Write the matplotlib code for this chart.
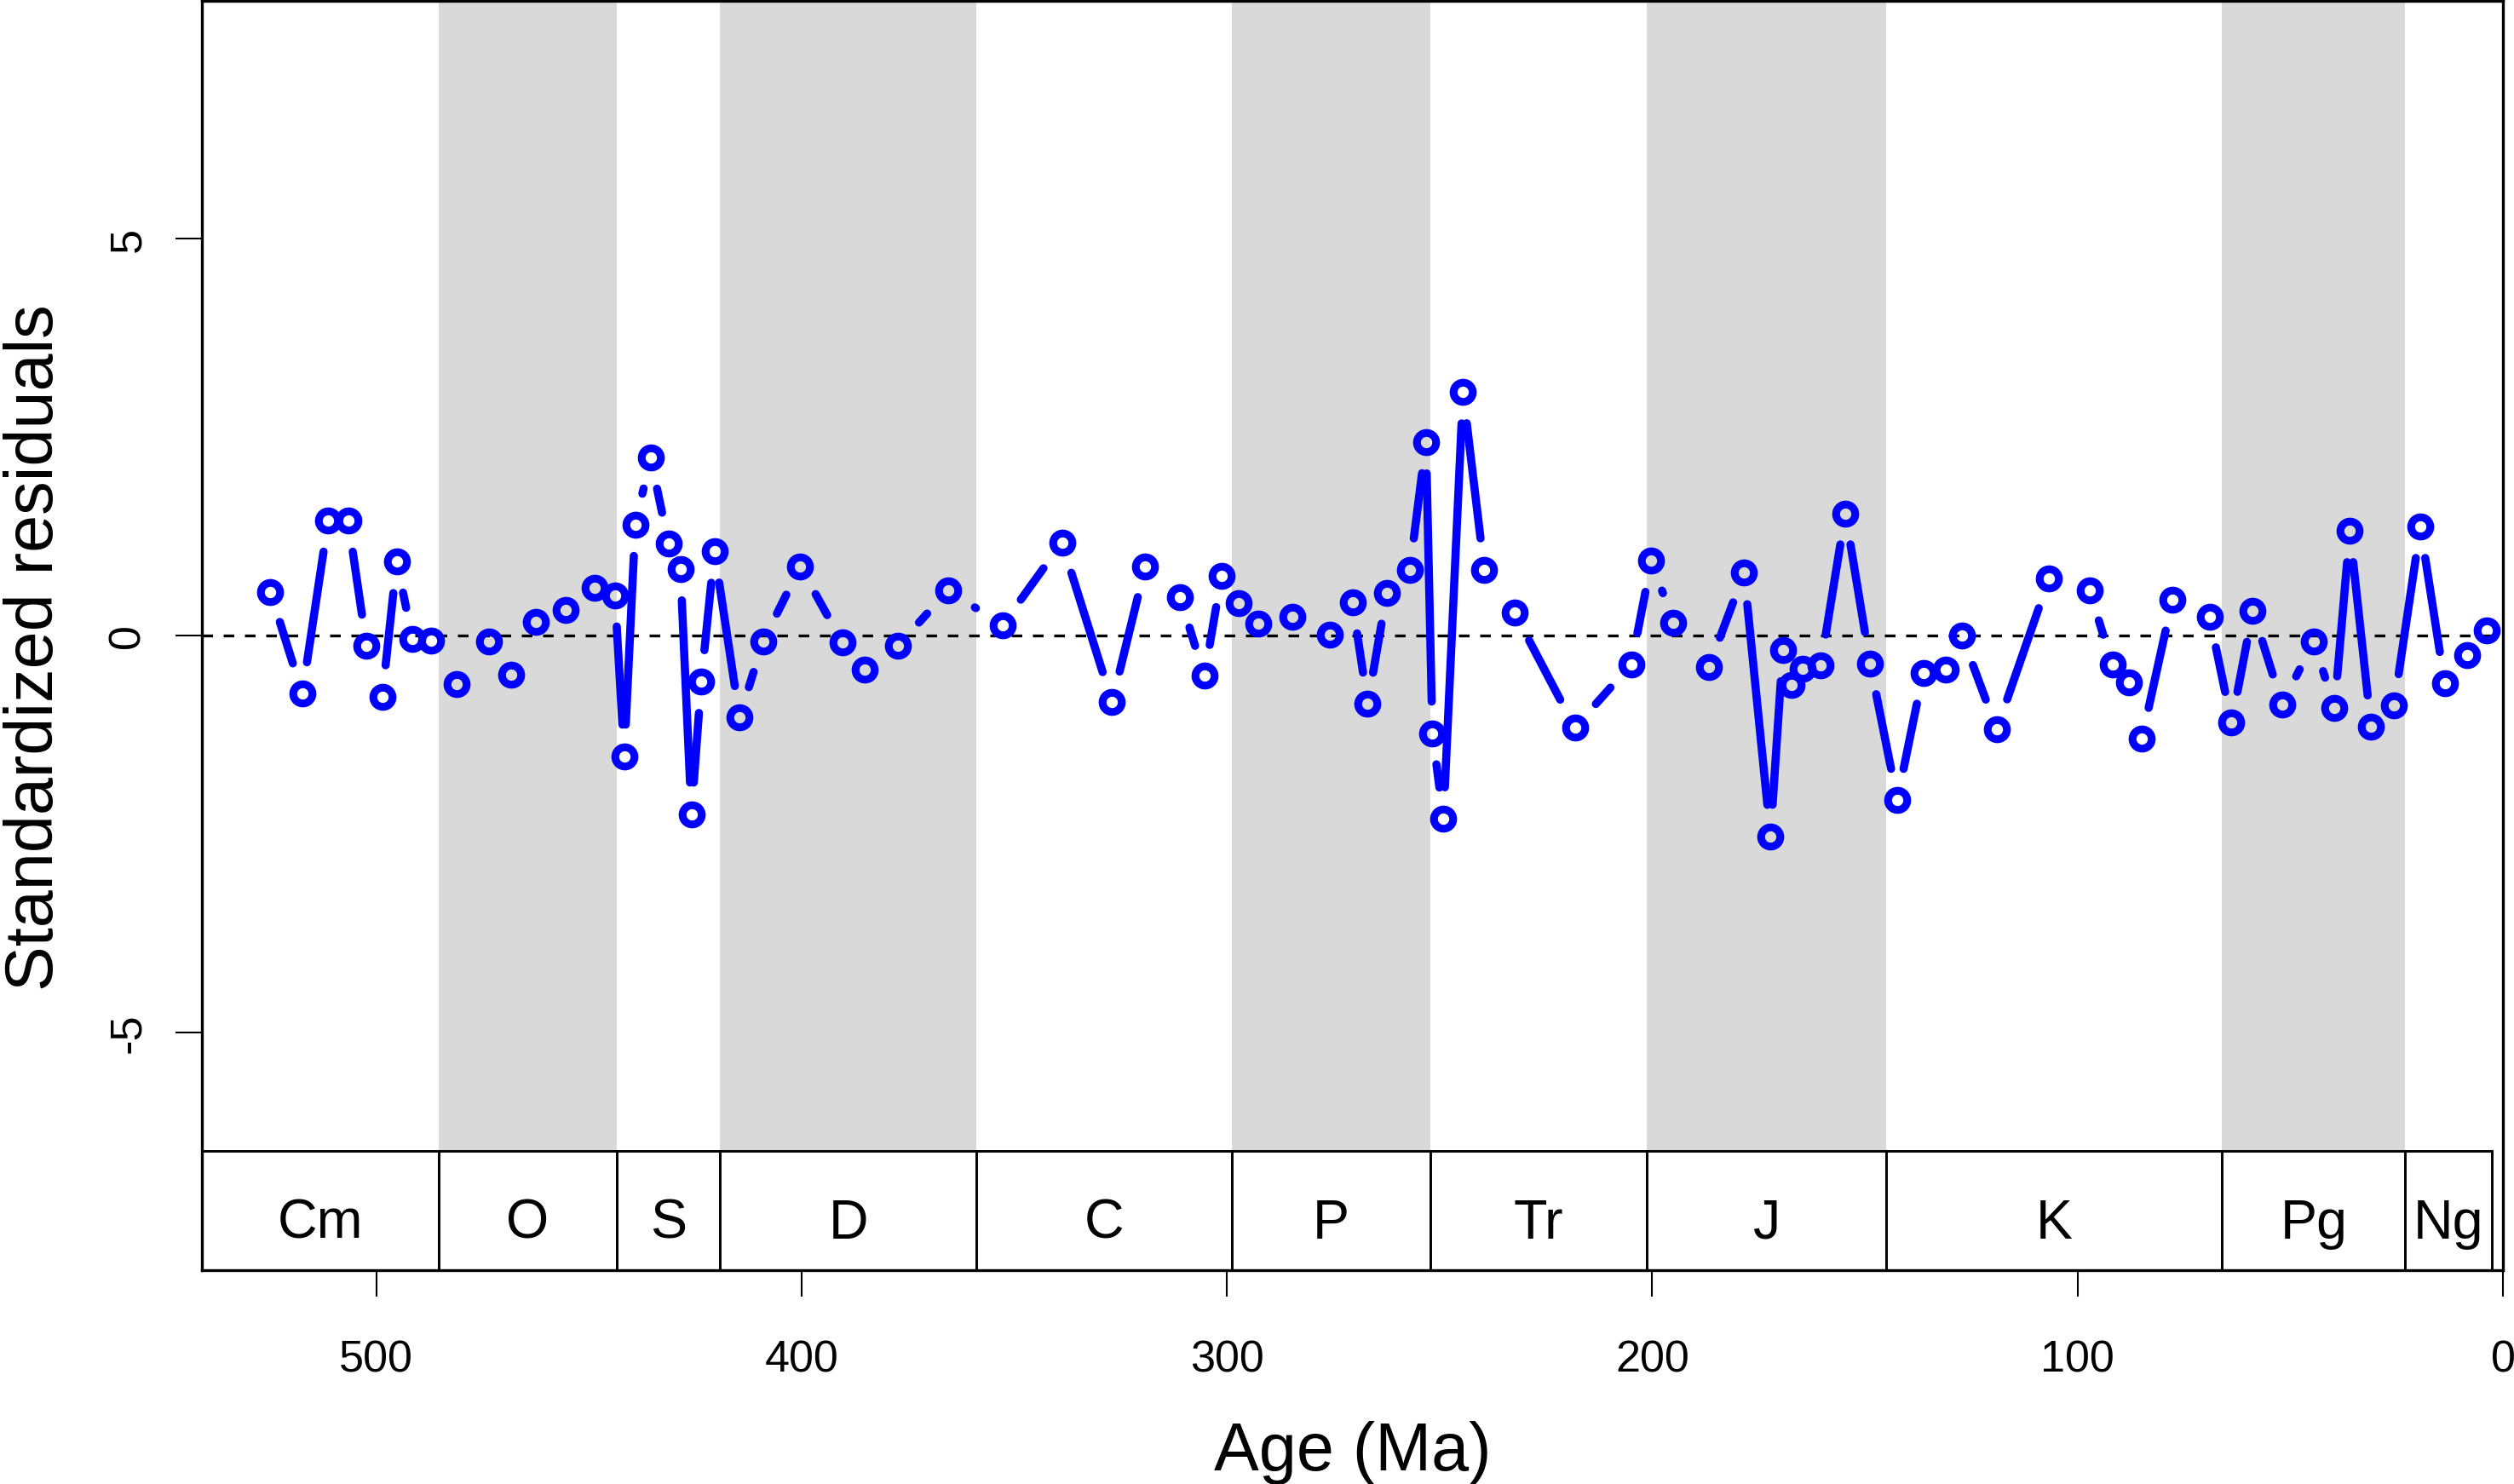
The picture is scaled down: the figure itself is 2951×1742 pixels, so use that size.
import numpy as np
import matplotlib
matplotlib.use('Agg')
import matplotlib.pyplot as plt
from matplotlib.patches import Rectangle
from matplotlib.collections import LineCollection

plt.rcParams['font.family'] = ['Liberation Sans', 'DejaVu Sans']
plt.rcParams['axes.unicode_minus'] = False

# residuals through time (Ma)
age = [524.9, 517.4, 511.3, 506.6, 502.3, 498.6, 495.2, 491.5, 487.2, 481.2,
       473.5, 468.3, 462.5, 455.4, 448.6, 443.9, 441.7, 439.1, 435.5, 431.3,
       428.5, 425.9, 423.6, 420.5, 414.6, 409.1, 400.3, 390.4, 385.1, 377.4,
       365.5, 352.8, 338.8, 327.0, 319.2, 311.0, 305.3, 301.3, 297.2, 292.7,
       284.6, 275.8, 270.5, 266.9, 262.4, 257.0, 253.2, 251.7, 249.1, 244.5,
       239.5, 232.4, 218.2, 204.9, 200.2, 195.0, 186.7, 178.4, 172.2, 169.3,
       167.3, 164.7, 160.4, 154.6, 148.8, 142.4, 136.3, 131.0, 127.2, 119.0,
       106.7, 97.2, 91.8, 88.0, 84.9, 77.7, 69.0, 63.8, 58.8, 51.9,
       44.5, 39.6, 36.0, 31.0, 25.6, 19.4, 13.7, 8.4, 3.9]
resid = [0.55, -0.73, 1.45, 1.45, -0.13, -0.77, 0.93, -0.04, -0.06, -0.61,
         -0.07, -0.49, 0.17, 0.32, 0.60, 0.51, -1.52, 1.40, 2.24, 1.16,
         0.84, -2.25, -0.58, 1.06, -1.03, -0.08, 0.87, -0.09, -0.43, -0.13,
         0.57, 0.13, 1.17, -0.84, 0.87, 0.48, -0.51, 0.75, 0.41, 0.15,
         0.24, 0.01, 0.42, -0.86, 0.54, 0.83, 2.44, -1.23, -2.31, 3.07,
         0.83, 0.29, -1.16, -0.36, 0.94, 0.16, -0.40, 0.79, -2.53, -0.18,
         -0.62, -0.42, -0.38, 1.54, -0.35, -2.07, -0.47, -0.43, 0.00, -1.18,
         0.72, 0.57, -0.37, -0.59, -1.30, 0.45, 0.24, -1.10, 0.31, -0.87,
         -0.07, -0.91, 1.32, -1.15, -0.88, 1.37, -0.60, -0.25, 0.06]

# geological periods
period_names = ['Cm', 'O', 'S', 'D', 'C', 'P', 'Tr', 'J', 'K', 'Pg', 'Ng']
period_start = [541.0, 485.4, 443.4, 419.2, 358.9, 298.9, 252.17, 201.3, 145.0, 66.0, 23.03]
period_end = [485.4, 443.4, 419.2, 358.9, 298.9, 252.17, 201.3, 145.0, 66.0, 23.03, 2.588]
shaded = ['O', 'D', 'P', 'J', 'Pg']

dpi = 300
fig = plt.figure(figsize=(2951 / dpi, 1743 / dpi), dpi=dpi)
ax = fig.add_axes([237 / 2951, 1 - 1492 / 1743, (2938 - 237) / 2951, 1490 / 1743])
ax.set_xlim(541, 0)
ax.set_ylim(-8, 8)

scale_top = -6.5

# grey bands for alternating periods
for name, s, e in zip(period_names, period_start, period_end):
    if name in shaded:
        ax.add_patch(Rectangle((e, scale_top), s - e, 8 - scale_top,
                               facecolor='#D9D9D9', edgecolor='none', zorder=0))

ax.axhline(0, color='black', lw=0.8, ls=(0, (3.75, 3.75)), zorder=1)

# lines with gaps around the points, like R's type="b"
gap = 37
pts = ax.transData.transform(np.column_stack([age, resid]))
inv = ax.transData.inverted()
segs = []
for p0, p1 in zip(pts[:-1], pts[1:]):
    d = p1 - p0
    L = np.hypot(d[0], d[1])
    if L > 2 * gap:
        u = d / L
        segs.append(inv.transform(np.array([p0 + u * gap, p1 - u * gap])))
lc = LineCollection(segs, colors='#0000FF', linewidths=2.3, capstyle='round', zorder=2)
ax.add_collection(lc)
ax.plot(age, resid, ls='none', marker='o', ms=5.4, mew=2.2, mec='#0000FF',
        mfc='none', zorder=3)

# timescale boxes
for name, s, e in zip(period_names, period_start, period_end):
    ax.add_patch(Rectangle((e, -8), s - e, 8 + scale_top, facecolor='white',
                           edgecolor='black', lw=0.7, zorder=4))
    ax.text((s + e) / 2, -7.59, name, ha='center', va='baseline',
            fontsize=15.5, zorder=5)

ax.set_xticks([0, 100, 200, 300, 400, 500])
ax.set_yticks([-5, 0, 5])
ax.tick_params(axis='both', direction='out', length=7.4, width=0.5, labelsize=12.5)
ax.tick_params(axis='x', pad=12)
ax.tick_params(axis='y', pad=7.5, labelrotation=90)
for lab in ax.get_yticklabels():
    lab.set_va('center')
for sp in ax.spines.values():
    sp.set_linewidth(0.8)
    sp.set_zorder(6)

fig.text((237 + 2938) / 2 / 2951, 1 - 1726 / 1743, 'Age (Ma)', ha='center',
         va='baseline', fontsize=19)
fig.text(62 / 2951, 1 - 760 / 1743, 'Standardized residuals', rotation=90,
         rotation_mode='anchor', ha='center', va='baseline', fontsize=19)

fig.savefig('out.png', dpi=dpi)
